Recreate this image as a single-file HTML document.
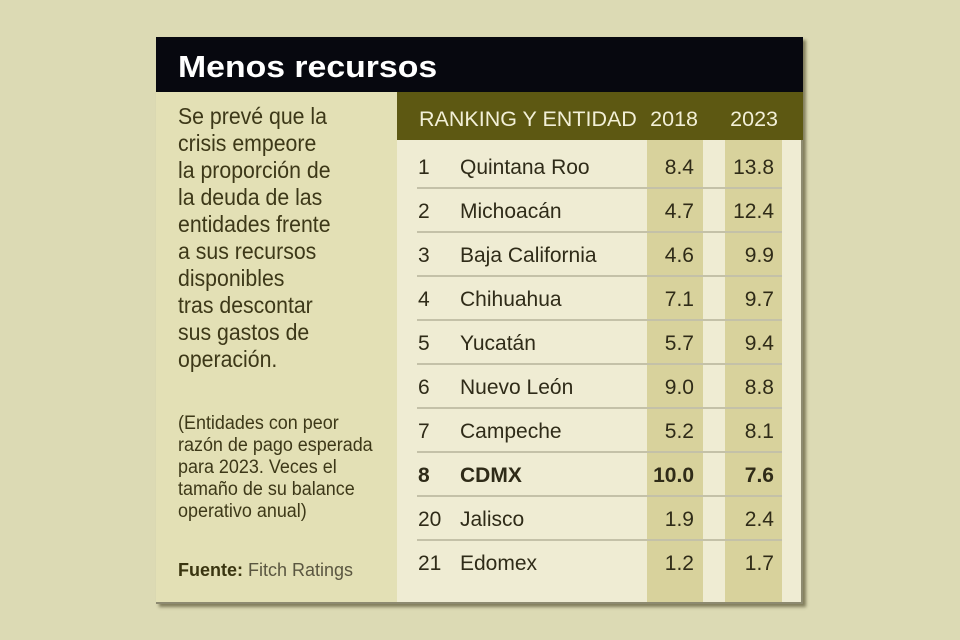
<!DOCTYPE html>
<html>
<head>
<meta charset="utf-8">
<style>
  html,body{margin:0;padding:0;}
  body{width:960px;height:640px;overflow:hidden;background:#dcdab4;font-family:"Liberation Sans",sans-serif;}
  #root{position:relative;width:960px;height:640px;background:#dcdab4;}
  .abs{position:absolute;}
  .card{left:156px;top:37px;width:647px;height:567px;background:#e3e0b5;box-shadow:3px 3px 3px rgba(55,50,20,0.55);border-right:2px solid #8d8a70;border-bottom:2px solid #8d8a70;box-sizing:border-box;}
  .black{left:156px;top:37px;width:647px;height:55px;background:#07080f;}
  .title{left:178px;top:50.8px;font-size:31px;line-height:31px;font-weight:bold;color:#ffffff;white-space:nowrap;transform:scaleX(1.09);transform-origin:0 0;}
  .olive{left:397px;top:92px;width:406px;height:48px;background:#5d5812;}
  .rbody{left:397px;top:140px;width:404px;height:462px;background:#efecd3;}
  .band{top:140px;height:462px;background:#d8d29c;}
  .sep{left:417px;width:365px;height:2px;background:#c4c1a8;}
  .hdr{top:103.5px;font-size:21.5px;line-height:30px;color:#f2efd6;white-space:nowrap;}
  .body{left:178px;top:103.4px;font-size:23.5px;line-height:27px;color:#3d3818;white-space:nowrap;transform:scaleX(0.905);transform-origin:0 0;}
  .small{left:178px;top:413.4px;font-size:19px;line-height:22px;color:#3d3818;white-space:nowrap;transform:scaleX(0.945);transform-origin:0 0;}
  .src{left:178px;top:558.6px;font-size:18px;line-height:22px;white-space:nowrap;}
  .src b{color:#3a3510;}
  .src span{color:#5a5640;}
  .cell{font-size:21px;line-height:30px;color:#2f2b18;white-space:nowrap;}
  .rk{left:418px;}
  .nm{left:460px;}
  .v1{right:266px;text-align:right;}
  .v2{right:186px;text-align:right;}
  .bold{font-weight:bold;}
</style>
</head>
<body>
<div id="root">
  <div class="abs card"></div>
  <div class="abs black"></div>
  <div class="abs title">Menos recursos</div>
  <div class="abs olive"></div>
  <div class="abs rbody"></div>
  <div class="abs band" style="left:647px;width:56px;"></div>
  <div class="abs band" style="left:725px;width:57px;"></div>

  <div class="abs sep" style="top:187px;"></div>
  <div class="abs sep" style="top:231px;"></div>
  <div class="abs sep" style="top:275px;"></div>
  <div class="abs sep" style="top:319px;"></div>
  <div class="abs sep" style="top:363px;"></div>
  <div class="abs sep" style="top:407px;"></div>
  <div class="abs sep" style="top:451px;"></div>
  <div class="abs sep" style="top:495px;"></div>
  <div class="abs sep" style="top:539px;"></div>

  <div class="abs hdr" style="left:419px;">RANKING Y ENTIDAD</div>
  <div class="abs hdr" style="right:262px;">2018</div>
  <div class="abs hdr" style="right:182px;">2023</div>

  <div class="abs body">Se prevé que la<br>crisis empeore<br>la proporción de<br>la deuda de las<br>entidades frente<br>a sus recursos<br>disponibles<br>tras descontar<br>sus gastos de<br>operación.</div>

  <div class="abs small">(Entidades con peor<br>razón de pago esperada<br>para 2023. Veces el<br>tamaño de su balance<br>operativo anual)</div>

  <div class="abs src"><b>Fuente:</b> <span>Fitch Ratings</span></div>

  <!-- rows: baseline 175 + 44*i ; top = baseline - 22.3 -->
  <div class="abs cell rk" style="top:152.7px;">1</div>
  <div class="abs cell nm" style="top:152.7px;">Quintana Roo</div>
  <div class="abs cell v1" style="top:152.7px;">8.4</div>
  <div class="abs cell v2" style="top:152.7px;">13.8</div>

  <div class="abs cell rk" style="top:196.7px;">2</div>
  <div class="abs cell nm" style="top:196.7px;">Michoacán</div>
  <div class="abs cell v1" style="top:196.7px;">4.7</div>
  <div class="abs cell v2" style="top:196.7px;">12.4</div>

  <div class="abs cell rk" style="top:240.7px;">3</div>
  <div class="abs cell nm" style="top:240.7px;">Baja California</div>
  <div class="abs cell v1" style="top:240.7px;">4.6</div>
  <div class="abs cell v2" style="top:240.7px;">9.9</div>

  <div class="abs cell rk" style="top:284.7px;">4</div>
  <div class="abs cell nm" style="top:284.7px;">Chihuahua</div>
  <div class="abs cell v1" style="top:284.7px;">7.1</div>
  <div class="abs cell v2" style="top:284.7px;">9.7</div>

  <div class="abs cell rk" style="top:328.7px;">5</div>
  <div class="abs cell nm" style="top:328.7px;">Yucatán</div>
  <div class="abs cell v1" style="top:328.7px;">5.7</div>
  <div class="abs cell v2" style="top:328.7px;">9.4</div>

  <div class="abs cell rk" style="top:372.7px;">6</div>
  <div class="abs cell nm" style="top:372.7px;">Nuevo León</div>
  <div class="abs cell v1" style="top:372.7px;">9.0</div>
  <div class="abs cell v2" style="top:372.7px;">8.8</div>

  <div class="abs cell rk" style="top:416.7px;">7</div>
  <div class="abs cell nm" style="top:416.7px;">Campeche</div>
  <div class="abs cell v1" style="top:416.7px;">5.2</div>
  <div class="abs cell v2" style="top:416.7px;">8.1</div>

  <div class="abs cell rk bold" style="top:460.7px;">8</div>
  <div class="abs cell nm bold" style="top:460.7px;">CDMX</div>
  <div class="abs cell v1 bold" style="top:460.7px;">10.0</div>
  <div class="abs cell v2 bold" style="top:460.7px;">7.6</div>

  <div class="abs cell rk" style="top:504.7px;">20</div>
  <div class="abs cell nm" style="top:504.7px;">Jalisco</div>
  <div class="abs cell v1" style="top:504.7px;">1.9</div>
  <div class="abs cell v2" style="top:504.7px;">2.4</div>

  <div class="abs cell rk" style="top:548.7px;">21</div>
  <div class="abs cell nm" style="top:548.7px;">Edomex</div>
  <div class="abs cell v1" style="top:548.7px;">1.2</div>
  <div class="abs cell v2" style="top:548.7px;">1.7</div>
</div>
</body>
</html>
